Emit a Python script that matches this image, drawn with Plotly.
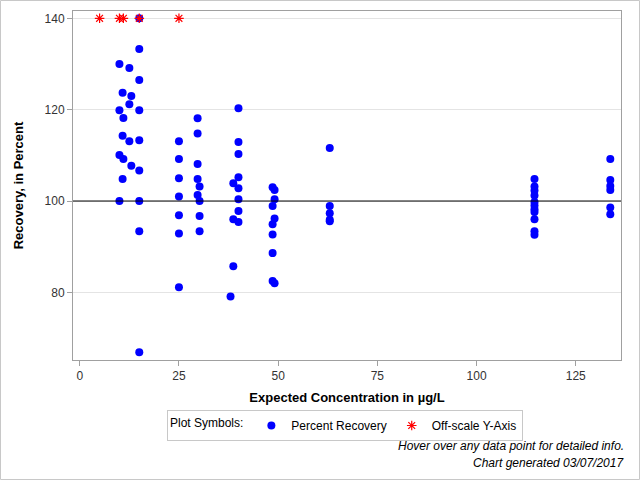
import plotly.graph_objects as go

# Percent recovery data (blue dots)
conc = (
    [10] * 4 + [10.8] * 3 + [11] * 2 + [12.5] * 3 + [13] * 2 + [15] * 9 +
    [25] * 7 + [29.7] * 5 + [30.2] * 4 + [38] * 1 + [38.7] * 3 + [40] * 8 +
    [48.6] * 6 + [49.1] * 4 + [63] * 5 + [114.6] * 11 + [133.7] * 6
)
recovery = [
    130.0, 119.9, 110.1, 100.0,
    123.7, 114.3, 104.8,
    118.2, 109.2,
    129.1, 121.2, 113.1,
    123.0, 107.7,
    140.0, 133.3, 126.5, 119.9, 113.3, 106.7, 100.0, 93.4, 66.9,
    113.1, 109.2, 105.0, 101.0, 96.9, 92.9, 81.1,
    118.1, 114.8, 108.1, 104.8, 101.3,
    103.2, 100.0, 96.7, 93.4,
    79.1,
    103.9, 96.0, 85.7,
    120.3, 112.9, 110.3, 105.2, 102.8, 100.4, 97.8, 95.4,
    103.0, 98.9, 94.9, 92.7, 88.6, 82.5,
    102.4, 100.4, 96.2, 82.0,
    111.6, 98.9, 97.3, 95.6, 95.9,
    104.8, 103.2, 102.3, 101.2, 99.8, 99.0, 98.2, 97.6, 96.0, 93.4, 92.6,
    109.2, 104.6, 103.3, 102.4, 98.6, 97.1,
]

# Off-scale points (red asterisks), plotted at the top of the axis
off_conc = [5, 10, 11, 15, 25]
off_y = [140, 140, 140, 140, 140]

x_ticks = [0, 25, 50, 75, 100, 125]
y_ticks = [80, 100, 120, 140]

FONT = "Liberation Sans, Arial, sans-serif"

fig = go.Figure()
fig.add_trace(go.Scatter(
    x=conc, y=recovery, mode="markers", name="Percent Recovery",
    marker=dict(color="#0000ff", size=8, symbol="circle"),
    hovertemplate="Concentration: %{x} µg/L<br>Recovery: %{y}%<extra></extra>",
))
fig.add_trace(go.Scatter(
    x=off_conc, y=off_y, mode="markers", name="Off-scale Y-Axis",
    marker=dict(color="#ff0000", size=8, symbol="asterisk-open",
                line=dict(color="#ff0000", width=1.2)),
    hovertemplate="Concentration: %{x} µg/L<br>Off-scale<extra></extra>",
))

fig.add_shape(type="line", xref="paper", x0=0, x1=1, yref="y", y0=100, y1=100,
              line=dict(color="black", width=1))

# outer border of the graphic
W, H = 640, 480
L, R, T, B = 73, 19, 11, 120
pw, ph = W - L - R, H - T - B
fig.add_shape(type="rect", xref="paper", yref="paper",
              x0=(0.5 - L) / pw, x1=(W - 0.5 - L) / pw,
              y0=(H - B - (H - 0.5)) / ph, y1=(H - B - 0.5) / ph,
              line=dict(color="#c8c8c8", width=1), layer="below")

fig.add_annotation(text="<i>Hover over any data point for detailed info.</i>",
                   xref="paper", yref="paper", x=(626 - L) / pw, y=(H - B - 446) / ph,
                   xanchor="right", yanchor="middle", showarrow=False,
                   font=dict(family=FONT, size=12, color="black"))
fig.add_annotation(text="<i>Chart generated 03/07/2017</i>",
                   xref="paper", yref="paper", x=(626 - L) / pw, y=(H - B - 463) / ph,
                   xanchor="right", yanchor="middle", showarrow=False,
                   font=dict(family=FONT, size=12, color="black"))

fig.update_layout(
    width=W, height=H,
    margin=dict(l=L, r=R, t=T, b=B, autoexpand=False),
    paper_bgcolor="white", plot_bgcolor="white",
    font=dict(family=FONT, size=12, color="#333333"),
    showlegend=True,
    legend=dict(
        orientation="h", x=(345 - L) / pw, xanchor="center",
        y=(H - B - 410) / ph, yanchor="top",
        title=dict(text="Plot Symbols:", font=dict(family=FONT, size=12, color="black")),
        font=dict(family=FONT, size=12, color="black"),
        bordercolor="#c8c8c8", borderwidth=1, bgcolor="white",
        itemwidth=30, tracegroupgap=0,
    ),
    xaxis=dict(
        range=[-1.7, 136.4], tickvals=x_ticks, ticks="outside", ticklen=5,
        tickcolor="#a0a0a0", showline=True, linecolor="#a0a0a0", mirror=True,
        showgrid=False, zeroline=False,
        title=dict(text="<b>Expected Concentration in µg/L</b>", standoff=10,
                   font=dict(family=FONT, size=13, color="black")),
        tickfont=dict(family=FONT, size=12, color="#333333"),
    ),
    yaxis=dict(
        range=[65.2, 141.6], tickvals=y_ticks, ticks="outside", ticklen=5,
        tickcolor="#a0a0a0", showline=True, linecolor="#a0a0a0", mirror=True,
        showgrid=True, gridcolor="#e4e4e4", zeroline=False,
        title=dict(text="<b>Recovery, in Percent</b>", standoff=18,
                   font=dict(family=FONT, size=13, color="black")),
        tickfont=dict(family=FONT, size=12, color="#333333"),
    ),
)

fig.write_html("out.html", config={"displayModeBar": False},
               post_script="document.body.style.margin='0';")
